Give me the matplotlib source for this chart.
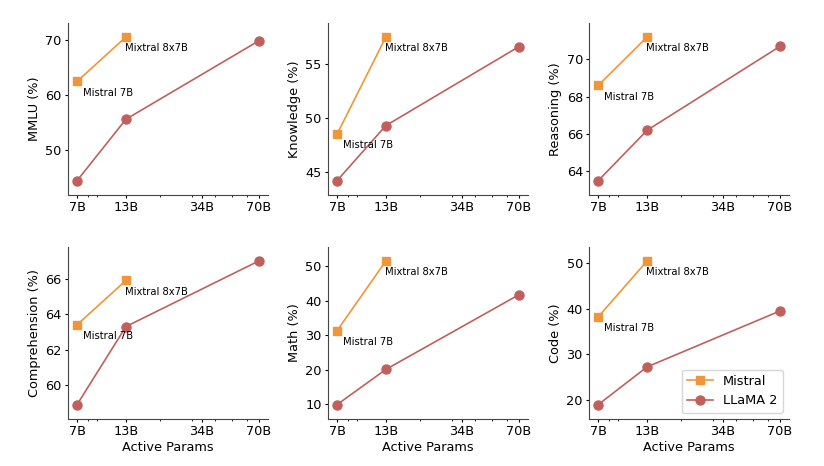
import numpy as np
import matplotlib
matplotlib.use("Agg")
import matplotlib.pyplot as plt
from matplotlib.ticker import NullFormatter

# active params (billions)
mistral_params = [7, 13]
llama_params = [7, 13, 70]
tick_params = [7, 13, 34, 70]
tick_labels = ["7B", "13B", "34B", "70B"]

titles = ["MMLU (%)", "Knowledge (%)", "Reasoning (%)",
          "Comprehension (%)", "Math (%)", "Code (%)"]

mistral_scores = [
    [62.5, 70.6],
    [48.5, 57.5],
    [68.6, 71.2],
    [63.4, 65.9],
    [31.3, 51.5],
    [38.2, 50.5],
]
llama_scores = [
    [44.4, 55.6, 69.9],
    [44.2, 49.3, 56.6],
    [63.5, 66.2, 70.7],
    [58.9, 63.3, 67.0],
    [9.9, 20.1, 41.7],
    [18.9, 27.2, 39.5],
]

orange = "#f0953a"
red = "#c0605d"

plt.rcParams["font.size"] = 9.3
plt.rcParams["xtick.major.size"] = 2.0
plt.rcParams["ytick.major.size"] = 2.0
plt.rcParams["xtick.minor.size"] = 1.2
plt.rcParams["xtick.major.pad"] = 2.5
plt.rcParams["ytick.major.pad"] = 2.5

fig = plt.figure(figsize=(8.24, 4.66), dpi=100)

lefts = [0.0825, 0.398, 0.715]
bottoms = [0.5815, 0.1009]
w, h = 0.2427, 0.370

for i in range(6):
    r, c = divmod(i, 3)
    ax = fig.add_axes([lefts[c], bottoms[r], w, h])
    ax.plot(mistral_params, mistral_scores[i], color=orange, marker="s",
            markersize=6.3, linewidth=1.2, label="Mistral")
    ax.plot(llama_params, llama_scores[i], color=red, marker="o",
            markersize=6.5, linewidth=1.2, label="LLaMA 2")
    ax.annotate("Mistral 7B", (mistral_params[0], mistral_scores[i][0]),
                xytext=(4, -8), textcoords="offset points",
                ha="left", va="center", fontsize=7.2)
    ax.annotate("Mixtral 8x7B", (mistral_params[1], mistral_scores[i][1]),
                xytext=(-1, -8), textcoords="offset points",
                ha="left", va="center", fontsize=7.2)
    ax.set_xscale("log")
    ax.set_xticks(tick_params)
    ax.set_xticklabels(tick_labels)
    ax.xaxis.set_minor_formatter(NullFormatter())
    ax.margins(x=0.05, y=0.1)
    ax.set_ylabel(titles[i], labelpad=3)
    if r == 1:
        ax.set_xlabel("Active Params", labelpad=2)
    for s in ["top", "right"]:
        ax.spines[s].set_visible(False)
    for s in ["left", "bottom"]:
        ax.spines[s].set_color("#444444")
    if i == 5:
        ax.legend(loc="lower right", fontsize=9.3)

# integer y ticks like the reference
fig.axes[1].set_yticks([45, 50, 55])
fig.axes[2].set_yticks([64, 66, 68, 70])
fig.axes[3].set_yticks([60, 62, 64, 66])

fig.savefig("out.png", dpi=100)
